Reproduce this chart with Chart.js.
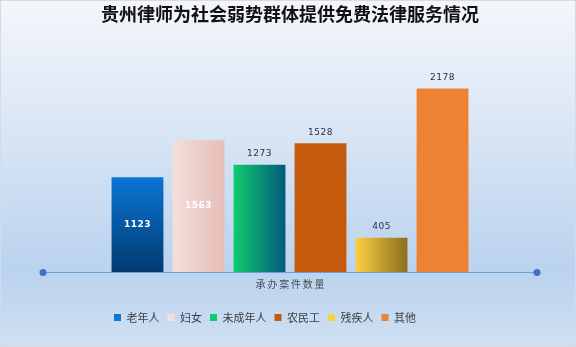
<!DOCTYPE html>
<html>
<head>
<meta charset="utf-8">
<script src="https://cdn.jsdelivr.net/npm/chart.js@4/dist/chart.umd.min.js"></script>
<style>
  html, body { margin: 0; padding: 0; background: #ffffff; }
  #wrap { width: 576px; height: 347px; }
</style>
</head>
<body>
<div id="wrap"><canvas id="lawChart" width="576" height="347"></canvas></div>
<script>
// 贵州律师免费法律服务 - 按群体统计
const categories = ["承办案件数量"];
const groups = ["老年人", "妇女", "未成年人", "农民工", "残疾人", "其他"];
const caseCounts = [1123, 1563, 1273, 1528, 405, 2178];
const labelInside = [true, true, false, false, false, false];

const CJK = "'Noto Sans CJK SC', 'Noto Sans', sans-serif";

// bar fills: [start, end, direction]
const fills = [
  ["#0b76d4", "#003b70", "v"],
  ["#f4dfdb", "#e6bdb8", "h"],
  ["#0fcc6e", "#035a7c", "h"],
  ["#c65a0c", "#c65a0c", "h"],
  ["#fbcf42", "#8b6e1f", "h"],
  ["#ee8132", "#ee8132", "h"]
];

// page background with soft blue gradient and frame
const backdrop = {
  id: "backdrop",
  beforeDraw(chart) {
    const c = chart.ctx;
    const w = chart.width, h = chart.height;
    const g = c.createLinearGradient(0, 0, 0, h);
    g.addColorStop(0, "#f4f6fb");
    g.addColorStop(0.3, "#dfe9f6");
    g.addColorStop(0.78, "#bad3ee");
    g.addColorStop(1, "#cfe0f2");
    c.save();
    c.fillStyle = g;
    c.fillRect(0, 0, w, h);
    c.strokeStyle = "#d4dbe4";
    c.lineWidth = 1;
    c.strokeRect(0.5, 0.5, w - 1, h - 1);
    c.restore();
  }
};

// gradient fills need the bar geometry, so set them once bars are placed
const barGradients = {
  id: "barGradients",
  beforeDatasetsDraw(chart) {
    const c = chart.ctx;
    chart.data.datasets.forEach(function (ds, i) {
      const f = fills[i];
      chart.getDatasetMeta(i).data.forEach(function (el) {
        let g;
        if (f[2] === "v") {
          g = c.createLinearGradient(0, el.y, 0, el.base);
        } else {
          g = c.createLinearGradient(el.x - el.width / 2, 0, el.x + el.width / 2, 0);
        }
        g.addColorStop(0, f[0]);
        g.addColorStop(1, f[1]);
        el.options.backgroundColor = g;
      });
    });
  }
};

// axis baseline with round end caps
const baseline = {
  id: "baseline",
  afterDatasetsDraw(chart) {
    const c = chart.ctx;
    const a = chart.chartArea;
    const y = chart.scales.y.getPixelForValue(0) + 0.5;
    c.save();
    c.strokeStyle = "#6f9bd8";
    c.lineWidth = 1;
    c.beginPath();
    c.moveTo(a.left, y);
    c.lineTo(a.right, y);
    c.stroke();
    c.fillStyle = "#3f72c6";
    [a.left, a.right].forEach(function (x) {
      c.beginPath();
      c.arc(x, y, 3.5, 0, Math.PI * 2);
      c.fill();
    });
    c.restore();
  }
};

// value labels
const valueLabels = {
  id: "valueLabels",
  afterDatasetsDraw(chart) {
    const c = chart.ctx;
    c.save();
    c.textAlign = "center";
    c.textBaseline = "middle";
    chart.data.datasets.forEach(function (ds, i) {
      const el = chart.getDatasetMeta(i).data[0];
      const v = ds.data[0];
      c.letterSpacing = "0.5px";
      if (labelInside[i]) {
        c.font = "bold 9px 'DejaVu Sans', sans-serif";
        c.fillStyle = "#ffffff";
        c.fillText(String(v), el.x, (el.y + el.base) / 2);
      } else {
        c.font = "9px 'DejaVu Sans', sans-serif";
        c.fillStyle = "#2a2f3a";
        c.fillText(String(v), el.x, el.y - 11);
      }
    });
    c.restore();
  }
};

const datasets = groups.map(function (name, i) {
  return {
    label: name,
    data: [caseCounts[i]],
    backgroundColor: fills[i][0],
    borderWidth: 0,
    categoryPercentage: 0.741,
    barPercentage: 0.85
  };
});

const chart = new Chart(document.getElementById("lawChart"), {
  type: "bar",
  data: { labels: categories, datasets: datasets },
  plugins: [backdrop, barGradients, baseline, valueLabels],
  options: {
    responsive: false,
    animation: false,
    layout: { padding: { left: 43, right: 39, top: 0, bottom: 14 } },
    plugins: {
      title: {
        display: true,
        text: "贵州律师为社会弱势群体提供免费法律服务情况",
        color: "#111111",
        font: { family: CJK, size: 18, weight: "bold" },
        padding: { top: 3, bottom: 8 }
      },
      legend: {
        position: "bottom",
        labels: {
          boxWidth: 7,
          boxHeight: 7,
          padding: 8,
          color: "#3a3f48",
          font: { family: CJK, size: 11 },
          generateLabels: function () {
            return groups.map(function (name, i) {
              return {
                text: name,
                fillStyle: fills[i][0],
                strokeStyle: fills[i][0],
                fontColor: "#3a3f48",
                lineWidth: 0,
                datasetIndex: i
              };
            });
          }
        }
      },
      tooltip: { enabled: false }
    },
    scales: {
      x: {
        grid: { display: false, drawTicks: false },
        border: { display: false },
        ticks: { display: false },
        title: {
          display: true,
          text: "承办案件数量",
          color: "#4a4f58",
          font: { family: CJK, size: 10 },
          padding: { top: 6, bottom: 14 }
        }
      },
      y: {
        display: false,
        min: 0,
        max: 2840
      }
    }
  }
});

// legend sits a little left of the plot centre; caption is letter-spaced
function shiftDraw(obj, method, dx, spacing) {
  const orig = obj[method].bind(obj);
  obj[method] = function () {
    const c = chart.ctx;
    c.save();
    c.translate(dx, 0);
    if (spacing) c.letterSpacing = spacing;
    orig.apply(null, arguments);
    c.restore();
  };
}
shiftDraw(chart.legend, "draw", -25);
shiftDraw(chart.scales.x, "drawTitle", 1, "1.8px");
chart.draw();
</script>
</body>
</html>
